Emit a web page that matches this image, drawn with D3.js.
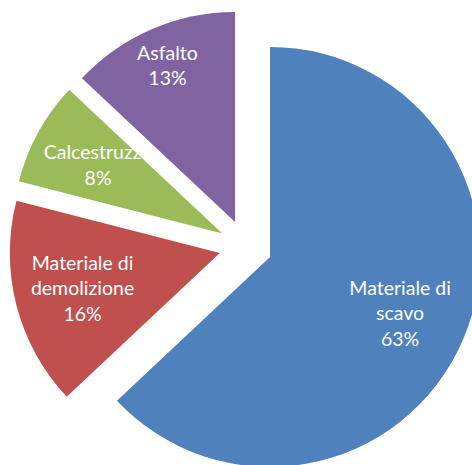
<!DOCTYPE html>
<html>
<head>
<meta charset="utf-8">
<script src="https://cdn.jsdelivr.net/npm/d3@7"></script>
<style>
  html, body { margin: 0; padding: 0; background: #fff; overflow: hidden; }
  svg { display: block; }
</style>
</head>
<body>
<div id="chart"></div>
<script>
// --- Data ---
const categories = ['Materiale di scavo', 'Materiale di demolizione', 'Calcestruzzo', 'Asfalto'];
const values = [63, 16, 8, 13];
const labelLines = [
  ['Materiale di', 'scavo', '63%'],
  ['Materiale di', 'demolizione', '16%'],
  ['Calcestruzzo', '8%'],
  ['Asfalto', '13%']
];
const colors = ['#4F81BD', '#C0504D', '#9BBB59', '#8064A2'];

const width = 472, height = 465;
const cx = 245.6, cy = 246.4;
const radius = 210;
const explode = 26.6;

const data = categories.map((c, i) => ({ name: c, value: values[i], lines: labelLines[i], color: colors[i] }));

const svg = d3.select('#chart').append('svg')
  .attr('width', width)
  .attr('height', height);

const g = svg.append('g').attr('transform', `translate(${cx},${cy})`);

const pie = d3.pie().value(d => d.value).sort(null);
const arc = d3.arc().innerRadius(0).outerRadius(radius);
const arcs = pie(data);

function offset(d, dist) {
  const mid = (d.startAngle + d.endAngle) / 2;
  return [Math.sin(mid) * dist, -Math.cos(mid) * dist];
}

// label distance from slice apex, as fraction of radius
const labelFrac = d => d.data.name === 'Asfalto' ? 0.81 : 0.675;

const slices = g.selectAll('g.slice')
  .data(arcs)
  .enter().append('g')
  .attr('class', 'slice')
  .attr('transform', d => `translate(${offset(d, explode)})`);

slices.append('path')
  .attr('d', arc)
  .attr('fill', d => d.data.color);

const lineH = 25.5;
slices.append('text')
  .attr('transform', d => `translate(${offset(d, radius * labelFrac(d))})`)
  .attr('text-anchor', 'middle')
  .style('font-family', 'Lato, "Open Sans", sans-serif')
  .style('font-size', '19.5px')
  .attr('fill', '#fff')
  .each(function(d) {
    const n = d.data.lines.length;
    d3.select(this).selectAll('tspan')
      .data(d.data.lines)
      .enter().append('tspan')
      .attr('x', 0)
      .attr('y', (t, i) => (i - (n - 1) / 2) * lineH)
      .attr('dy', '0.35em')
      .text(t => t);
  });
</script>
</body>
</html>
